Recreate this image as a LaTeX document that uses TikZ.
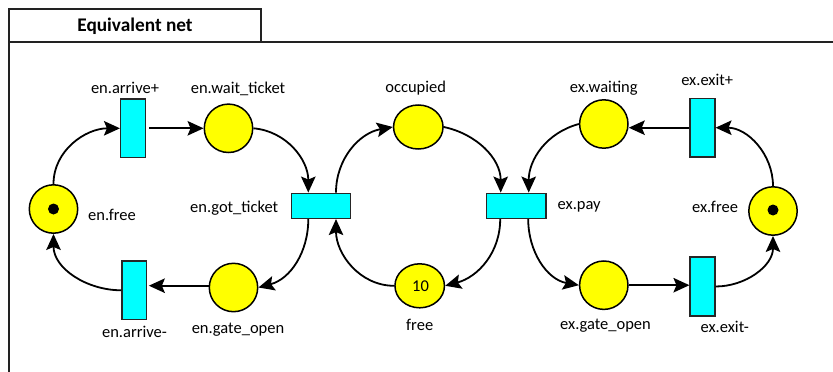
\documentclass[tikz,border=0pt]{standalone}
\usepackage{fontspec}
\setmainfont{Carlito}
\usetikzlibrary{arrows.meta,shapes.geometric}
\definecolor{placey}{HTML}{FFFF00}
\definecolor{transc}{HTML}{00FFFF}
\definecolor{framec}{HTML}{222222}
\tikzset{
  place/.style={circle,draw=black,line width=1.5pt,fill=placey,minimum size=48.4pt,inner sep=0pt},
  eplace/.style={ellipse,draw=black,line width=1.5pt,fill=placey,minimum width=49.5pt,minimum height=44pt,inner sep=0pt},
  vtrans/.style={rectangle,draw=black!85,line width=1.5pt,fill=transc,minimum width=24.6pt,minimum height=58.7pt,inner sep=0pt},
  htrans/.style={rectangle,draw=black!85,line width=1.5pt,fill=transc,minimum width=59.3pt,minimum height=25pt,inner sep=0pt},
  token/.style={circle,fill=black,minimum size=11pt,inner sep=0pt},
  lbl/.style={anchor=base,inner sep=0pt,font=\fontsize{16.5pt}{18pt}\selectfont},
  arc/.style={line width=1.8pt,-{Stealth[length=16pt,width=14.5pt,inset=3pt]}},
  frame/.style={draw=framec,line width=1.9pt}
}
\begin{document}
\begin{tikzpicture}[x=1pt,y=-1pt]
\useasboundingbox (0,0) rectangle (833,372);
% frame
\draw[frame] (9,373) -- (9,42) -- (834,42);
\draw[frame] (9,42) -- (9,9) -- (261,9) -- (261,42);
\node[lbl,font=\fontsize{19.3pt}{21pt}\selectfont\bfseries] (title) at (135,31.7) {Equivalent net};
% places
\node[place] (enfree) at (53.5,209) {};
\node[token] (enfreetok) at (53.5,209) {};
\node[place] (enwait) at (228.5,128.3) {};
\node[place] (engate) at (233.5,287.5) {};
\node[eplace] (occ) at (418.3,127) {};
\node[eplace] (free) at (419.7,285.8) {};
\node[place] (exwait) at (603.8,124) {};
\node[place] (exgate) at (603.8,285.2) {};
\node[place] (exfree) at (773,211) {};
\node[token] (exfreetok) at (773,210) {};
% transitions
\node[vtrans] (enarrp) at (133,128.3) {};
\node[vtrans] (enarrm) at (134.3,290.3) {};
\node[htrans] (engot) at (321,205.8) {};
\node[htrans] (expay) at (516.2,205.8) {};
\node[vtrans] (exexitp) at (702.5,127.7) {};
\node[vtrans] (exexitm) at (702.5,286.5) {};
% labels
\node[lbl] (l1) at (125,93.3) {en.arrive+};
\node[lbl] (l2) at (238,93.3) {en.wait\_ticket};
\node[lbl] (l3) at (415.7,92.7) {occupied};
\node[lbl] (l4) at (603.8,92.7) {ex.waiting};
\node[lbl] (l5) at (707.2,85.3) {ex.exit+};
\node[lbl] (l6) at (112,220) {en.free};
\node[lbl] (l7) at (234.2,212.7) {en.got\_ticket};
\node[lbl] (l8) at (579.2,209.3) {ex.pay};
\node[lbl] (l9) at (715,212) {ex.free};
\node[lbl] (l10) at (134.5,337.7) {en.arrive-};
\node[lbl] (l11) at (238,333.3) {en.gate\_open};
\node[lbl] (l12) at (419.7,330) {free};
\node[lbl] (l13) at (605.5,329.3) {ex.gate\_open};
\node[lbl] (l14) at (724.7,332.7) {ex.exit-};
\node[lbl] (l15) at (420.5,291) {10};
% arcs
\draw[arc] (enfree.north) to[out=90,in=180] (enarrp.west);
\draw[arc] ([xshift=3pt]enarrp.east) -- (enwait.west);
\draw[arc] (enwait.east) to[out=-5,in=90] ([xshift=-12.7pt]engot.north);
\draw[arc] ([xshift=15pt]engot.north) to[out=90,in=190] (occ.west);
\draw[arc] (occ.east) to[out=-12,in=90] ([xshift=-15.5pt]expay.north);
\draw[arc] (exwait.west) to[out=195,in=90] ([xshift=12.5pt]expay.north);
\draw[arc] (exexitp.west) -- (exexitp.west -| exwait.east);
\draw[arc] (exfree.north) to[out=90,in=0] (exexitp.east);
\draw[arc] ([xshift=-16pt]expay.south) to[out=-90,in=15] (free.east);
\draw[arc] ([xshift=12pt]expay.south) to[out=-90,in=170] (exgate.west);
\draw[arc] (exgate.east) -- (exgate.east -| exexitm.west);
\draw[arc] (exexitm.east) to[out=0,in=-90] (exfree.south);
\draw[arc] (free.west) to[out=180,in=-90] ([xshift=15pt]engot.south);
\draw[arc] ([xshift=-12.7pt]engot.south) to[out=-90,in=15] (engate.east);
\draw[arc] ([yshift=1.8pt]engate.west) -- ([xshift=1.5pt,yshift=1.8pt]engate.west -| enarrm.east);
\draw[arc] (enarrm.west) to[out=180,in=-90] (enfree.south);
\end{tikzpicture}
\end{document}
